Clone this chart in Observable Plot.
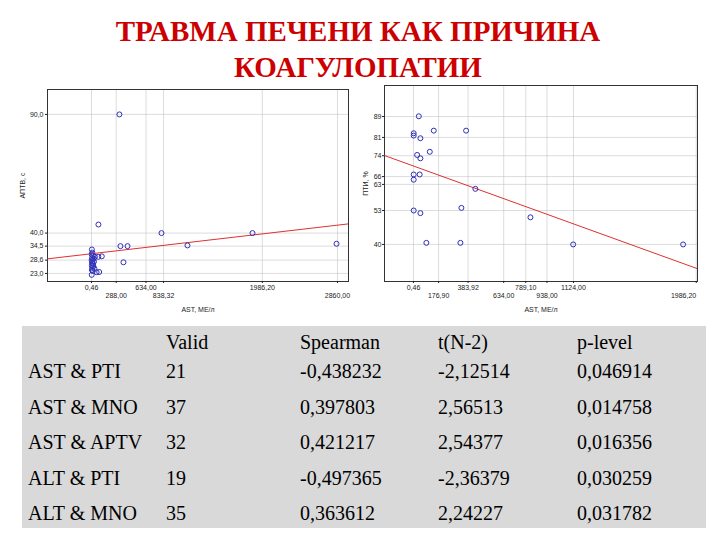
<!DOCTYPE html>
<html><head><meta charset="utf-8">
<script src="https://cdn.jsdelivr.net/npm/d3@7"></script>
<script src="https://cdn.jsdelivr.net/npm/@observablehq/plot@0.6"></script>
<style>
html,body{margin:0;padding:0;background:#fff;}
#page{position:relative;width:720px;height:540px;overflow:hidden;font-family:"Liberation Serif","Times New Roman",serif;}
#title{position:absolute;left:0;top:13px;width:716px;text-align:center;color:#cc0000;font-family:"Liberation Serif","Times New Roman",serif;font-weight:700;font-size:29px;line-height:36px;}
.chart{position:absolute;top:80px;}
#tbl{position:absolute;left:22px;top:326px;width:684px;height:202px;background:#d9d9d9;}
.cell{position:absolute;font-size:20px;line-height:20px;color:#000;white-space:nowrap;}
</style></head>
<body><div id="page">
<div id="title">ТРАВМА ПЕЧЕНИ КАК ПРИЧИНА<br>КОАГУЛОПАТИИ</div>
<div id="left" class="chart" style="left:0px"></div>
<div id="right" class="chart" style="left:360px"></div>
<div id="tbl"></div>
</div>
<script>
// ---- left scatter: AST vs АПТВ ----
const leftAST  = [325, 81, 814, 337, 419, 1116, 1872, 2849, 372,
  5, 10, 3, 15, 40, 80, 120, 8, 25, 2, 12, 30, 6, 18, 4, 22, 10, 35, 5, 15, 60, 90, 3];
const leftAPTV = [90, 43.6, 40, 34.5, 34.5, 34.8, 40, 35.5, 27.7,
  33.1, 31.8, 31, 30.6, 30, 30, 30.2, 29.5, 29.2, 28.6, 28.2, 28, 27.4, 27, 26.3, 26, 25.4, 25, 24.5, 24, 23.5, 23.6, 22.4];
const leftYTicks = [23, 28.6, 34.5, 40, 90];
const leftXTicksRow1 = [0.46, 634, 1986.2];
const leftXTicksRow2 = [288, 838.32, 2860];
const leftFit = [31.3, 0.00421]; // intercept, slope

// ---- right scatter: AST vs ПТИ ----
const rightAST = [38, 2, 2, 49, 143, 370, 115, 26, 49, 2, 44, 2, 435, 2, 49, 337, 822, 91, 330, 1122, 1894];
const rightPTI = [89.1, 82.6, 81.7, 80.7, 83.6, 83.6, 75.5, 74.3, 73, 66.8, 66.8, 64.8, 61.3, 53, 52, 54, 50.4, 40.6, 40.6, 40, 40];
const rightYTicks = [40, 53, 63, 66, 74, 81, 89];
const rightXTicksRow1 = [0.46, 383.92, 789.1, 1124];
const rightXTicksRow2 = [176.9, 634, 938];
const rightXTickLast = [1986.2];
const rightFit = [70.06, -0.01973];

// ---- table ----
const pairs = ["AST & PTI", "AST & MNO", "AST & APTV", "ALT & PTI", "ALT & MNO"];
const validN = [21, 37, 32, 19, 35];
const spearman = [-0.438232, 0.397803, 0.421217, -0.497365, 0.363612];
const tStat = [-2.12514, 2.56513, 2.54377, -2.36379, 2.24227];
const pLevel = [0.046914, 0.014758, 0.016356, 0.030259, 0.031782];
const headers = ["Valid", "Spearman", "t(N-2)", "p-level"];

const comma = (d, n) => d.toFixed(n).replace(".", ",");

function scatter({xs, ys, xDomain, yDomain, yTicks, yFmt, row1, row2, last, fit, yLabel, mL, mR, mT, yPad, yLabelOffset}) {
  const data = xs.map((x, i) => ({x, y: ys[i]}));
  const fitLine = [{x1: xDomain[0], x2: xDomain[1], y1: fit[0] + fit[1] * xDomain[0], y2: fit[0] + fit[1] * xDomain[1]}];
  const marks = [
    Plot.gridX(row1.concat(row2, last || []), {stroke: "#bbb", strokeOpacity: 0.5}),
    Plot.gridY(yTicks, {stroke: "#bbb", strokeOpacity: 0.5}),
    Plot.frame({stroke: "#333", strokeWidth: 1}),
    Plot.axisY(yTicks, {tickFormat: yFmt, tickSize: 2, tickPadding: yPad, fontSize: 7,
      label: yLabel, labelAnchor: "center", labelArrow: "none", labelOffset: yLabelOffset}),
    Plot.axisX(row1, {tickFormat: d => comma(d, 2), tickSize: 2, tickPadding: 2, fontSize: 7, label: null}),
    Plot.axisX(row2, {tickFormat: d => comma(d, 2), tickSize: 2, tickPadding: 10, fontSize: 7,
      label: "AST, МЕ/л", labelAnchor: "center", labelArrow: "none", labelOffset: 30})
  ];
  if (last) marks.push(Plot.axisX(last, {tickFormat: d => comma(d, 2), tickSize: 2, tickPadding: 10, fontSize: 7,
      textAnchor: "end", label: null}));
  marks.push(
    Plot.link(fitLine, {x1: "x1", y1: "y1", x2: "x2", y2: "y2", stroke: "#e03030", strokeWidth: 1, clip: true}),
    Plot.dot(data, {x: "x", y: "y", r: 2.5, stroke: "#3030b8", strokeWidth: 1, fill: "none"})
  );
  return Plot.plot({
    width: 360, height: 240,
    marginLeft: mL, marginRight: mR, marginTop: mT, marginBottom: 39,
    x: {domain: xDomain},
    y: {domain: yDomain},
    style: {fontFamily: "'Liberation Sans', Arial, sans-serif", fontSize: "7px", background: "#fff", color: "#222"},
    marks
  });
}

document.getElementById("left").append(scatter({
  xs: leftAST, ys: leftAPTV, xDomain: [-511, 2988], yDomain: [19.6, 100.5],
  yTicks: leftYTicks, yFmt: d => comma(d, 1), row1: leftXTicksRow1, row2: leftXTicksRow2,
  fit: leftFit, yLabel: "АПТВ, с", mL: 47, mR: 12, mT: 9, yPad: 2, yLabelOffset: 27
}));
document.getElementById("right").append(scatter({
  xs: rightAST, ys: rightPTI, xDomain: [-203, 1995], yDomain: [25.8, 100.9],
  yTicks: rightYTicks, yFmt: d => String(d), row1: rightXTicksRow1, row2: rightXTicksRow2, last: rightXTickLast,
  fit: rightFit, yLabel: "ПТИ, %", mL: 24, mR: 23, mT: 5, yPad: 1, yLabelOffset: 21
}));

// table cells
const tbl = document.getElementById("tbl");
const colX = [6, 144, 278, 416, 555];
const headerCenter = 16;
const firstRowCenter = 45;
const rowStep = 35.5;
function cell(text, x, cy) {
  const d = document.createElement("div");
  d.className = "cell";
  d.style.left = x + "px";
  d.style.top = (cy - 10) + "px";
  d.textContent = text;
  tbl.append(d);
}
headers.forEach((h, i) => cell(h, colX[i + 1], headerCenter));
pairs.forEach((p, i) => {
  const cy = firstRowCenter + i * rowStep;
  cell(p, colX[0], cy);
  cell(String(validN[i]), colX[1], cy);
  cell(comma(spearman[i], 6), colX[2], cy);
  cell(comma(tStat[i], 5), colX[3], cy);
  cell(comma(pLevel[i], 6), colX[4], cy);
});
</script>
</body></html>
